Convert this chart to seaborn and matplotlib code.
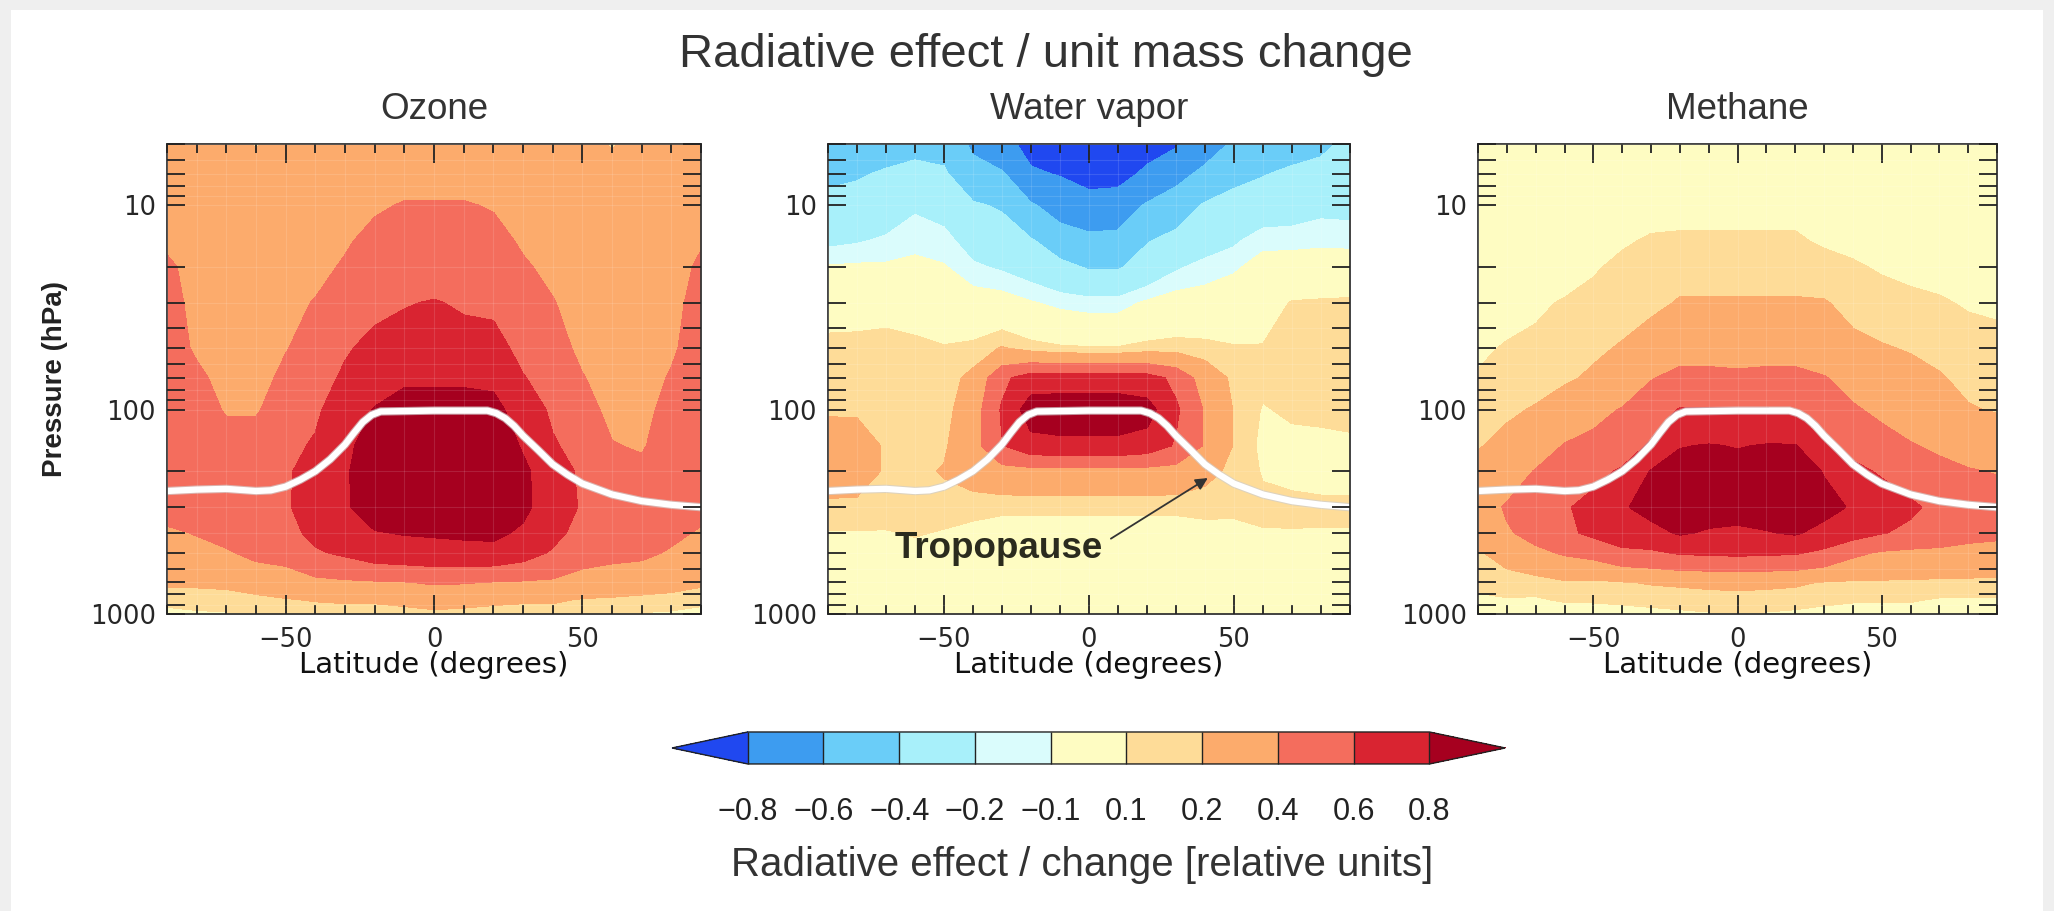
import numpy as np
import matplotlib
matplotlib.use("Agg")
import matplotlib.pyplot as plt
import matplotlib.patheffects as pe
import seaborn as sns
from matplotlib.colors import ListedColormap, BoundaryNorm
from matplotlib.ticker import FixedLocator, MultipleLocator, LogLocator, NullFormatter
from matplotlib.patches import Rectangle

# grid of the model fields
lats = list(range(-90, 91, 10))
pressures = [5, 7, 10, 15, 20, 30, 50, 70, 100, 150, 200, 300, 400, 500, 700, 850, 1000]

# contour classes and colours (from the colour bar)
levels = [-0.8, -0.6, -0.4, -0.2, -0.1, 0.1, 0.2, 0.4, 0.6, 0.8]
level_colors = ["#3d9cf0", "#6acdf8", "#a8f0fa", "#dafcfc", "#fefcc2",
                "#fedc98", "#fcab6c", "#f46d5d", "#d92431"]
under_color = "#2048f0"
over_color = "#a6001f"

# tropopause line
tropo_lat = [-90, -80, -70, -60, -55, -50, -45, -40, -35, -30, -27, -24, -21, -18,
             0, 18, 21, 24, 27, 30, 35, 40, 45, 50, 60, 70, 80, 90]
tropo_p = [250, 246, 244, 250, 248, 238, 220, 200, 175, 148, 130, 115, 106, 102,
           101, 101, 104, 110, 120, 134, 157, 185, 208, 230, 260, 280, 292, 300]

# one row per latitude (-90 ... 90), values from 5 hPa down to 1000 hPa
ozone = [
    [0.30, 0.30, 0.30, 0.35, 0.45, 0.50, 0.50, 0.50, 0.50, 0.50, 0.50, 0.47, 0.37, 0.32, 0.22, 0.15, 0.05],
    [0.30, 0.30, 0.30, 0.30, 0.30, 0.32, 0.37, 0.45, 0.50, 0.50, 0.50, 0.47, 0.41, 0.34, 0.22, 0.15, 0.08],
    [0.30, 0.30, 0.30, 0.30, 0.30, 0.30, 0.30, 0.32, 0.38, 0.50, 0.50, 0.50, 0.46, 0.38, 0.23, 0.15, 0.09],
    [0.18, 0.30, 0.30, 0.30, 0.30, 0.30, 0.30, 0.32, 0.38, 0.50, 0.55, 0.55, 0.50, 0.45, 0.26, 0.17, 0.09],
    [0.30, 0.30, 0.30, 0.30, 0.32, 0.35, 0.39, 0.45, 0.50, 0.55, 0.58, 0.58, 0.55, 0.47, 0.30, 0.19, 0.12],
    [0.30, 0.30, 0.30, 0.32, 0.35, 0.41, 0.48, 0.52, 0.57, 0.62, 0.66, 0.68, 0.64, 0.58, 0.35, 0.21, 0.13],
    [0.30, 0.32, 0.34, 0.38, 0.42, 0.50, 0.58, 0.63, 0.70, 0.75, 0.78, 0.78, 0.72, 0.63, 0.37, 0.22, 0.14],
    [0.30, 0.34, 0.38, 0.45, 0.50, 0.56, 0.65, 0.72, 0.81, 0.90, 0.90, 0.88, 0.79, 0.70, 0.38, 0.22, 0.14],
    [0.30, 0.35, 0.41, 0.47, 0.52, 0.59, 0.68, 0.77, 0.88, 0.92, 0.92, 0.90, 0.81, 0.72, 0.39, 0.24, 0.15],
    [0.30, 0.35, 0.41, 0.47, 0.52, 0.61, 0.68, 0.77, 0.88, 0.92, 0.92, 0.90, 0.82, 0.73, 0.42, 0.26, 0.17],
    [0.30, 0.35, 0.41, 0.46, 0.51, 0.58, 0.67, 0.77, 0.88, 0.92, 0.92, 0.90, 0.83, 0.74, 0.41, 0.25, 0.16],
    [0.30, 0.34, 0.39, 0.45, 0.50, 0.57, 0.66, 0.76, 0.86, 0.92, 0.92, 0.90, 0.84, 0.74, 0.39, 0.23, 0.15],
    [0.30, 0.31, 0.34, 0.38, 0.42, 0.47, 0.55, 0.61, 0.70, 0.78, 0.84, 0.84, 0.77, 0.68, 0.38, 0.22, 0.14],
    [0.30, 0.30, 0.31, 0.34, 0.36, 0.41, 0.47, 0.52, 0.57, 0.62, 0.68, 0.70, 0.65, 0.58, 0.37, 0.22, 0.14],
    [0.30, 0.30, 0.30, 0.30, 0.30, 0.32, 0.36, 0.41, 0.47, 0.53, 0.57, 0.58, 0.54, 0.48, 0.32, 0.19, 0.12],
    [0.18, 0.28, 0.30, 0.30, 0.30, 0.30, 0.30, 0.32, 0.35, 0.41, 0.47, 0.52, 0.50, 0.45, 0.30, 0.18, 0.09],
    [0.30, 0.30, 0.30, 0.30, 0.30, 0.30, 0.30, 0.31, 0.34, 0.38, 0.45, 0.50, 0.47, 0.44, 0.27, 0.17, 0.09],
    [0.30, 0.30, 0.30, 0.30, 0.30, 0.32, 0.37, 0.42, 0.47, 0.50, 0.50, 0.48, 0.44, 0.38, 0.25, 0.16, 0.08],
    [0.30, 0.30, 0.32, 0.38, 0.44, 0.50, 0.50, 0.50, 0.50, 0.50, 0.50, 0.45, 0.38, 0.33, 0.22, 0.14, 0.05],
]

water_vapor = [
    [-0.50, -0.45, -0.33, -0.23, -0.09, 0.02, 0.15, 0.16, 0.19, 0.25, 0.25, 0.18, 0.09, 0.05, 0.03, 0.02, 0.02],
    [-0.50, -0.42, -0.32, -0.21, -0.08, 0.03, 0.15, 0.16, 0.19, 0.24, 0.24, 0.18, 0.09, 0.05, 0.03, 0.02, 0.02],
    [-0.48, -0.38, -0.28, -0.18, -0.08, 0.06, 0.14, 0.15, 0.17, 0.19, 0.19, 0.16, 0.09, 0.05, 0.03, 0.02, 0.02],
    [-0.45, -0.35, -0.22, -0.13, -0.07, 0.06, 0.12, 0.14, 0.15, 0.16, 0.17, 0.15, 0.11, 0.06, 0.03, 0.02, 0.02],
    [-0.45, -0.38, -0.25, -0.16, -0.09, 0.00, 0.11, 0.14, 0.15, 0.18, 0.21, 0.15, 0.09, 0.05, 0.03, 0.02, 0.02],
    [-0.64, -0.52, -0.38, -0.26, -0.18, -0.02, 0.13, 0.24, 0.30, 0.32, 0.26, 0.14, 0.06, 0.04, 0.03, 0.02, 0.02],
    [-0.75, -0.58, -0.42, -0.30, -0.22, -0.03, 0.21, 0.55, 0.62, 0.59, 0.32, 0.12, 0.05, 0.04, 0.03, 0.02, 0.02],
    [-0.85, -0.78, -0.58, -0.38, -0.27, -0.09, 0.15, 0.70, 0.90, 0.72, 0.33, 0.12, 0.05, 0.04, 0.03, 0.02, 0.02],
    [-0.90, -0.81, -0.68, -0.50, -0.35, -0.13, 0.12, 0.70, 0.92, 0.74, 0.33, 0.12, 0.05, 0.04, 0.03, 0.02, 0.02],
    [-0.95, -0.87, -0.72, -0.55, -0.42, -0.15, 0.11, 0.70, 0.92, 0.74, 0.33, 0.12, 0.05, 0.04, 0.03, 0.02, 0.02],
    [-0.95, -0.86, -0.71, -0.54, -0.42, -0.15, 0.11, 0.70, 0.92, 0.74, 0.33, 0.12, 0.05, 0.04, 0.03, 0.02, 0.02],
    [-0.86, -0.77, -0.58, -0.41, -0.32, -0.08, 0.14, 0.68, 0.88, 0.70, 0.33, 0.12, 0.05, 0.04, 0.03, 0.02, 0.02],
    [-0.82, -0.66, -0.50, -0.34, -0.22, -0.03, 0.15, 0.55, 0.63, 0.58, 0.32, 0.12, 0.05, 0.04, 0.03, 0.02, 0.02],
    [-0.68, -0.56, -0.38, -0.27, -0.16, -0.03, 0.14, 0.30, 0.38, 0.38, 0.24, 0.13, 0.06, 0.04, 0.03, 0.02, 0.02],
    [-0.58, -0.43, -0.36, -0.22, -0.12, 0.00, 0.11, 0.17, 0.19, 0.19, 0.17, 0.12, 0.07, 0.04, 0.03, 0.02, 0.02],
    [-0.50, -0.41, -0.30, -0.13, -0.05, 0.02, 0.11, 0.13, 0.09, 0.07, 0.09, 0.13, 0.09, 0.05, 0.03, 0.02, 0.02],
    [-0.47, -0.37, -0.28, -0.13, -0.04, 0.11, 0.15, 0.15, 0.12, 0.06, 0.06, 0.14, 0.09, 0.05, 0.03, 0.02, 0.02],
    [-0.44, -0.34, -0.24, -0.12, -0.04, 0.12, 0.16, 0.16, 0.13, 0.06, 0.05, 0.13, 0.09, 0.05, 0.03, 0.02, 0.02],
    [-0.36, -0.31, -0.25, -0.12, -0.05, 0.13, 0.17, 0.17, 0.14, 0.07, 0.05, 0.13, 0.09, 0.05, 0.03, 0.02, 0.02],
]

methane = [
    [0.00, 0.00, 0.00, 0.00, 0.00, 0.03, 0.08, 0.11, 0.15, 0.19, 0.25, 0.30, 0.28, 0.19, 0.13, 0.08, 0.03],
    [0.00, 0.00, 0.00, 0.00, 0.02, 0.06, 0.11, 0.14, 0.18, 0.24, 0.30, 0.42, 0.38, 0.24, 0.16, 0.09, 0.05],
    [0.00, 0.00, 0.00, 0.00, 0.03, 0.08, 0.13, 0.16, 0.21, 0.30, 0.41, 0.50, 0.46, 0.36, 0.14, 0.09, 0.05],
    [0.00, 0.00, 0.00, 0.02, 0.05, 0.11, 0.15, 0.18, 0.28, 0.41, 0.50, 0.58, 0.56, 0.42, 0.18, 0.11, 0.05],
    [0.00, 0.00, 0.02, 0.05, 0.09, 0.13, 0.18, 0.22, 0.35, 0.45, 0.55, 0.66, 0.64, 0.46, 0.17, 0.11, 0.06],
    [0.00, 0.02, 0.05, 0.09, 0.12, 0.16, 0.21, 0.28, 0.41, 0.52, 0.62, 0.78, 0.72, 0.55, 0.19, 0.12, 0.06],
    [0.00, 0.03, 0.07, 0.11, 0.14, 0.17, 0.28, 0.39, 0.52, 0.62, 0.81, 0.86, 0.74, 0.57, 0.21, 0.13, 0.07],
    [0.02, 0.05, 0.08, 0.11, 0.16, 0.21, 0.33, 0.45, 0.61, 0.79, 0.88, 0.90, 0.82, 0.62, 0.22, 0.14, 0.08],
    [0.02, 0.05, 0.08, 0.11, 0.16, 0.21, 0.33, 0.45, 0.61, 0.81, 0.88, 0.88, 0.78, 0.63, 0.23, 0.15, 0.09],
    [0.02, 0.05, 0.08, 0.11, 0.16, 0.21, 0.32, 0.44, 0.61, 0.79, 0.87, 0.86, 0.77, 0.64, 0.24, 0.15, 0.09],
    [0.02, 0.05, 0.08, 0.11, 0.16, 0.21, 0.33, 0.45, 0.61, 0.81, 0.88, 0.88, 0.79, 0.63, 0.23, 0.15, 0.09],
    [0.02, 0.05, 0.08, 0.11, 0.16, 0.21, 0.33, 0.45, 0.59, 0.81, 0.88, 0.90, 0.82, 0.62, 0.22, 0.14, 0.08],
    [0.01, 0.04, 0.07, 0.09, 0.13, 0.21, 0.30, 0.41, 0.52, 0.61, 0.79, 0.86, 0.74, 0.56, 0.19, 0.12, 0.07],
    [0.00, 0.02, 0.05, 0.08, 0.11, 0.16, 0.24, 0.34, 0.42, 0.55, 0.64, 0.78, 0.68, 0.44, 0.18, 0.11, 0.06],
    [0.00, 0.01, 0.03, 0.06, 0.09, 0.14, 0.21, 0.28, 0.36, 0.48, 0.58, 0.70, 0.61, 0.38, 0.18, 0.11, 0.05],
    [0.00, 0.00, 0.02, 0.05, 0.08, 0.12, 0.19, 0.25, 0.33, 0.41, 0.52, 0.63, 0.56, 0.36, 0.18, 0.11, 0.05],
    [0.00, 0.00, 0.01, 0.04, 0.07, 0.11, 0.17, 0.21, 0.29, 0.37, 0.45, 0.55, 0.50, 0.36, 0.17, 0.09, 0.04],
    [0.00, 0.00, 0.00, 0.03, 0.06, 0.09, 0.15, 0.17, 0.21, 0.34, 0.41, 0.52, 0.46, 0.34, 0.17, 0.09, 0.04],
    [0.00, 0.00, 0.00, 0.02, 0.05, 0.08, 0.14, 0.17, 0.19, 0.30, 0.39, 0.50, 0.44, 0.33, 0.17, 0.09, 0.04],
]

panels = [("Ozone", ozone), ("Water vapor", water_vapor), ("Methane", methane)]

sns.set_theme(style="ticks")
plt.rcParams["font.family"] = ["Liberation Sans", "DejaVu Sans"]

cmap = ListedColormap(sns.color_palette(level_colors))
cmap.set_under(under_color)
cmap.set_over(over_color)
norm = BoundaryNorm(levels, cmap.N)

fig = plt.figure(figsize=(20.54, 9.11), dpi=100, facecolor="#efefef")
fig.patches.append(Rectangle((0.0055, 0.0), 0.989, 0.989, transform=fig.transFigure,
                             facecolor="white", edgecolor="none", zorder=-10))

positions = [
    [0.0813, 0.326, 0.260, 0.516],
    [0.4031, 0.326, 0.2541, 0.516],
    [0.7196, 0.326, 0.2527, 0.516],
]

tick_font = {"family": "DejaVu Sans", "size": 18.5}
cf = None
for (name, field), pos in zip(panels, positions):
    ax = fig.add_axes(pos)
    ax.set_axisbelow(False)
    z = np.array(field).T
    cf = ax.contourf(lats, pressures, z, levels=levels, cmap=cmap, norm=norm, extend="both")
    cf.set_edgecolor("face")
    cf.set_linewidth(0.4)
    line = ax.plot(tropo_lat, tropo_p, color="white", lw=4.5, solid_capstyle="butt")[0]
    line.set_path_effects([pe.Stroke(linewidth=6.0, foreground="#cfcfcf", alpha=0.7), pe.Normal()])

    ax.set_yscale("log")
    ax.set_ylim(1000, 5)
    ax.set_xlim(-90, 90)
    ax.yaxis.set_major_locator(FixedLocator([10, 100, 1000]))
    ax.set_yticklabels(["10", "100", "1000"], fontdict=tick_font)
    ax.yaxis.set_minor_locator(LogLocator(base=10, subs=np.arange(2, 10)))
    ax.yaxis.set_minor_formatter(NullFormatter())
    ax.xaxis.set_major_locator(FixedLocator([-50, 0, 50]))
    ax.set_xticklabels(["\u221250", "0", "50"], fontdict=tick_font)
    ax.xaxis.set_minor_locator(MultipleLocator(10))

    ax.grid(which="both", color="white", alpha=0.12, lw=0.8)
    ax.tick_params(which="both", direction="in", top=True, right=True,
                   color="#222222", width=1.3)
    ax.tick_params(axis="x", which="major", length=14, pad=9)
    ax.tick_params(axis="x", which="minor", length=6.5)
    ax.tick_params(axis="y", which="both", length=13, pad=8)
    for sp in ax.spines.values():
        sp.set_color("#333333")
        sp.set_linewidth(1.3)

    ax.set_xlabel("Latitude (degrees)", family="DejaVu Sans", fontsize=21, labelpad=-1,
                  color="#111111")
    ax.text(0.5, 1.074, name, transform=ax.transAxes, ha="center", va="center",
            fontsize=26.5, color="#333333")

    if name == "Water vapor":
        ax.annotate("Tropopause", xy=(41, 216), xytext=(-67, 480),
                    ha="left", va="center", fontsize=26.5, fontweight="bold",
                    color="#2b2b1e",
                    arrowprops=dict(arrowstyle="-|>", color="#333333", lw=1.3,
                                    mutation_scale=18, shrinkA=4, shrinkB=0,
                                    relpos=(1.0, 0.65)))

fig.text(55 / 2054, 0.584, "Pressure (hPa)", rotation=90, ha="center", va="center",
         fontsize=20, fontweight="bold", color="#222222")
fig.text(0.509, 0.94, "Radiative effect / unit mass change", ha="center", va="center",
         fontsize=34, color="#333333")

cax = fig.add_axes([0.3272, 0.1614, 0.4056, 0.0351])
cb = fig.colorbar(cf, cax=cax, orientation="horizontal", extend="both",
                  extendfrac=0.111, ticks=levels, drawedges=True)
cb.outline.set_edgecolor("#222222")
cb.outline.set_linewidth(1.0)
cb.dividers.set_color("#222222")
cb.dividers.set_linewidth(1.0)
cb.ax.set_xticklabels([f"{v:g}".replace("-", "\u2212") for v in levels])
cb.ax.tick_params(length=0, pad=24, labelsize=22, labelcolor="#222222")
fig.text(0.527, 0.0505, "Radiative effect / change [relative units]", ha="center",
         va="center", fontsize=29, color="#333333")

fig.savefig("out.png", dpi=100, facecolor=fig.get_facecolor())
